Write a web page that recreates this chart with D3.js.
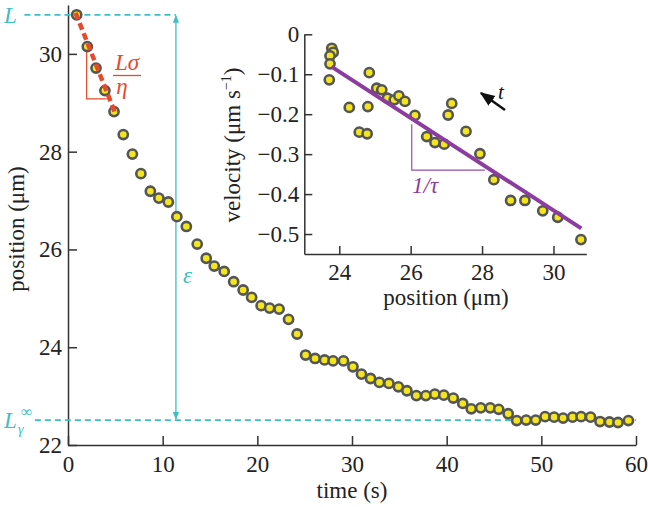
<!DOCTYPE html>
<html><head><meta charset="utf-8">
<script src="https://cdn.jsdelivr.net/npm/d3@7"></script>
<style>
body{margin:0;background:#fff;}
</style></head>
<body><svg id="c" width="648" height="507"></svg>
<script>
// Main panel data
const time = [0.92,2.04,2.96,3.9,4.86,5.84,6.8,7.7,8.7,9.6,10.6,11.5,12.5,13.65,14.6,15.45,16.5,17.5,18.5,19.4,20.4,21.3,22.3,23.3,24.2,25.1,26.1,27.1,28.0,29.1,30.1,31.0,31.96,32.9,33.9,34.9,35.8,36.8,37.8,38.75,39.7,40.7,41.7,42.6,43.6,44.6,45.5,46.5,47.4,48.4,49.4,50.4,51.35,52.3,53.3,54.2,55.2,56.2,57.2,58.1,59.2];
const position = [30.80,30.15,29.71,29.25,28.82,28.35,27.95,27.55,27.19,27.05,26.97,26.67,26.47,26.11,25.82,25.66,25.55,25.34,25.17,25.02,24.85,24.80,24.78,24.57,24.27,23.84,23.77,23.74,23.72,23.72,23.60,23.45,23.36,23.28,23.26,23.19,23.11,23.01,23.01,23.04,23.02,22.96,22.85,22.74,22.76,22.76,22.73,22.64,22.50,22.51,22.51,22.58,22.57,22.55,22.57,22.58,22.57,22.48,22.47,22.46,22.50];
const xTicks = [0,10,20,30,40,50,60];
const yTicks = [22,24,26,28,30];
const L0 = 30.8, Linf = 22.51;
const redFitT = [0.8, 5.0], redFitP = [30.84, 28.78];

// Inset data
const insetPos = [23.79,23.83,23.74,23.74,23.72,24.84,24.28,24.80,24.56,24.78,25.05,25.19,25.35,25.54,25.67,25.84,26.12,26.45,26.68,26.94,27.05,27.15,27.55,27.94,28.33,28.8,29.2,29.7,30.12,30.77];
const insetVel = [-0.035,-0.045,-0.054,-0.074,-0.114,-0.096,-0.183,-0.181,-0.245,-0.249,-0.135,-0.139,-0.160,-0.164,-0.154,-0.168,-0.203,-0.256,-0.271,-0.275,-0.202,-0.173,-0.243,-0.299,-0.364,-0.416,-0.416,-0.442,-0.458,-0.514];
const insetXTicks = [24,26,28,30];
const insetYTicks = [0,-0.1,-0.2,-0.3,-0.4,-0.5];
const fitPos = [23.78, 30.78], fitVel = [-0.081, -0.486];

const FONT = "'Liberation Serif','Times New Roman',serif";
const FS = 23;
const svg = d3.select("#c");
const cyan = "#3fbec6", red = "#e64a2b", purple = "#8c3c9e", axisCol = "#333";
const fillY = "#f3e61c", strokeP = "#555";

function txt(sel){ return sel.style("font-family",FONT); }

// scales
const x = d3.scaleLinear().domain([0,60]).range([68,636]);
const y = d3.scaleLinear().domain([22,31]).range([445,5]);

const defs = svg.append("defs");
function marker(id, col){
  defs.append("marker").attr("id",id).attr("viewBox","0 0 10 10").attr("refX",9).attr("refY",5)
    .attr("markerWidth",6).attr("markerHeight",6).attr("orient","auto-start-reverse")
    .append("path").attr("d","M0,1 L10,5 L0,9 Z").attr("fill",col);
}
marker("ac", cyan); marker("ak", "#111");

function styleAxis(g){
  g.attr("font-family",null).attr("font-size",null);
  g.select(".domain").attr("stroke",axisCol).attr("stroke-width",1.5);
  g.selectAll(".tick line").attr("stroke",axisCol).attr("stroke-width",1.5);
  g.selectAll("text").style("font-family",FONT).style("font-size",FS+"px").attr("fill","#222");
}

// axes
const gx = svg.append("g").attr("transform","translate(0,445)")
  .call(d3.axisBottom(x).tickValues(xTicks).tickSizeInner(-9).tickSizeOuter(0).tickPadding(14));
const gy = svg.append("g").attr("transform","translate(68,0)")
  .call(d3.axisLeft(y).tickValues(yTicks).tickSizeInner(-9).tickSizeOuter(0).tickPadding(6));
styleAxis(gx); styleAxis(gy);
gx.selectAll("text").attr("dy","0.71em").attr("y",11);

txt(svg.append("text")).attr("x",352).attr("y",498).attr("text-anchor","middle").style("font-size",FS+"px").attr("fill","#222").text("time (s)");
txt(svg.append("text")).attr("transform","translate(24,229) rotate(-90)").attr("text-anchor","middle").style("font-size",FS+"px").attr("fill","#222").text("position (μm)");

// cyan guides
const epsT = 11.4;
svg.append("line").attr("x1",x(-4.6)).attr("x2",x(epsT)).attr("y1",y(L0)).attr("y2",y(L0))
  .attr("stroke",cyan).attr("stroke-width",1.8).attr("stroke-dasharray","6,4");
svg.append("line").attr("x1",x(-3.5)).attr("x2",x(60)).attr("y1",y(Linf)).attr("y2",y(Linf))
  .attr("stroke",cyan).attr("stroke-width",1.8).attr("stroke-dasharray","6,4");
svg.append("line").attr("x1",x(epsT)).attr("x2",x(epsT)).attr("y1",y(L0)+1).attr("y2",y(Linf)-1)
  .attr("stroke",cyan).attr("stroke-width",1.3).attr("marker-start","url(#ac)").attr("marker-end","url(#ac)");
txt(svg.append("text")).attr("x",x(epsT)+7).attr("y",y(26)+34).style("font-size",FS+"px").attr("font-style","italic").attr("fill",cyan).text("ε");
txt(svg.append("text")).attr("x",4).attr("y",y(L0)+8).style("font-size",FS+"px").attr("font-style","italic").attr("fill",cyan).text("L");
txt(svg.append("text")).attr("x",4).attr("y",y(Linf)+8).style("font-size",FS+"px").attr("font-style","italic").attr("fill",cyan).text("L");
txt(svg.append("text")).attr("x",18).attr("y",y(Linf)+14).style("font-size","14px").attr("font-style","italic").attr("fill",cyan).text("γ");
txt(svg.append("text")).attr("x",21).attr("y",y(Linf)-3).style("font-size","16px").attr("fill",cyan).text("∞");

// red slope triangle
svg.append("path").attr("fill","none").attr("stroke",red).attr("stroke-width",1.2)
  .attr("d",`M${x(1.97)},${y(30.13)} L${x(1.97)},${y(29.08)} L${x(4.09)},${y(29.08)}`);

// points
svg.append("g").selectAll("circle").data(time).join("circle")
  .attr("cx",(d)=>x(d)).attr("cy",(d,i)=>y(position[i])).attr("r",4.6)
  .attr("fill",fillY).attr("stroke",strokeP).attr("stroke-width",2.6);

// red dashed fit
svg.append("line").attr("x1",x(redFitT[0])).attr("y1",y(redFitP[0])).attr("x2",x(redFitT[1])).attr("y2",y(redFitP[1]))
  .attr("stroke",red).attr("stroke-width",4.5).attr("stroke-dasharray","7,4");
txt(svg.append("text")).attr("x",127).attr("y",70).attr("text-anchor","middle").style("font-size",FS+"px").attr("font-style","italic").attr("fill",red).text("Lσ");
svg.append("line").attr("x1",113).attr("x2",141).attr("y1",75.5).attr("y2",75.5).attr("stroke",red).attr("stroke-width",1.3);
txt(svg.append("text")).attr("x",122).attr("y",94).attr("text-anchor","middle").style("font-size",FS+"px").attr("font-style","italic").attr("fill",red).text("η");

// ---------- inset ----------
const xi = d3.scaleLinear().domain([23.02,30.92]).range([304.3,586.3]);
const yi = d3.scaleLinear().domain([-0.55,0]).range([254,34.3]);
const gxi = svg.append("g").attr("transform","translate(0,254)")
  .call(d3.axisBottom(xi).tickValues(insetXTicks).tickSizeInner(-8).tickSizeOuter(0).tickPadding(12));
const gyi = svg.append("g").attr("transform","translate(304.3,0)")
  .call(d3.axisLeft(yi).tickValues(insetYTicks).tickSizeInner(-8).tickSizeOuter(0).tickPadding(5)
    .tickFormat(d=> d===0 ? "0" : "−" + Math.abs(d).toFixed(1)));
styleAxis(gxi); styleAxis(gyi);
gxi.selectAll("text").attr("dy","0.71em").attr("y",10);

txt(svg.append("text")).attr("x",446).attr("y",305).attr("text-anchor","middle").style("font-size",FS+"px").attr("fill","#222").text("position (μm)");
const vl = txt(svg.append("text")).attr("transform","translate(240,145) rotate(-90)").attr("text-anchor","middle").style("font-size",FS+"px").attr("fill","#222");
vl.append("tspan").text("velocity (μm s");
vl.append("tspan").style("font-size","14px").attr("dy",-9).text("−1");
vl.append("tspan").attr("dy",9).text(")");

// slope triangle purple
svg.append("path").attr("fill","none").attr("stroke",purple).attr("stroke-width",1.2).attr("opacity",0.9)
  .attr("d",`M${xi(26.03)},${yi(-0.225)} L${xi(26.03)},${yi(-0.34)} L${xi(28.08)},${yi(-0.34)}`);
txt(svg.append("text")).attr("x",412).attr("y",193).style("font-size",FS+"px").attr("font-style","italic").attr("fill",purple).text("1/τ");

svg.append("g").selectAll("circle").data(insetPos).join("circle")
  .attr("cx",(d)=>xi(d)).attr("cy",(d,i)=>yi(insetVel[i])).attr("r",4.6)
  .attr("fill",fillY).attr("stroke",strokeP).attr("stroke-width",2.6);

svg.append("line").attr("x1",xi(fitPos[0])).attr("y1",yi(fitVel[0])).attr("x2",xi(fitPos[1])).attr("y2",yi(fitVel[1]))
  .attr("stroke",purple).attr("stroke-width",4);

// time arrow
svg.append("line").attr("x1",505).attr("y1",110).attr("x2",481).attr("y2",93)
  .attr("stroke","#111").attr("stroke-width",2.5).attr("marker-end","url(#ak)");
txt(svg.append("text")).attr("x",498).attr("y",99).style("font-size","21px").attr("font-style","italic").attr("fill","#111").text("t");
</script></body></html>
